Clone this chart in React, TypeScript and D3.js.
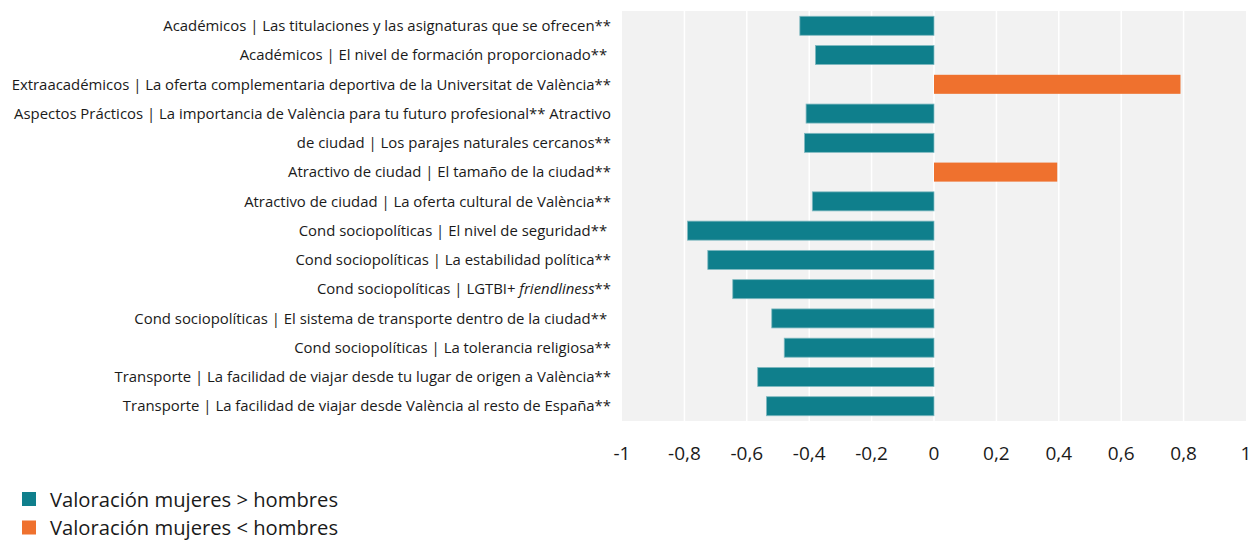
import React, { useRef, useEffect } from 'react';
import * as d3 from 'd3';

// categories, top to bottom
const categories = [
  'Académicos | Las titulaciones y las asignaturas que se ofrecen**',
  'Académicos | El nivel de formación proporcionado**\u00a0',
  'Extraacadémicos | La oferta complementaria deportiva de la Universitat de València**',
  'Aspectos Prácticos | La importancia de València para tu futuro profesional** Atractivo',
  'de ciudad | Los parajes naturales cercanos**',
  'Atractivo de ciudad | El tamaño de la ciudad**',
  'Atractivo de ciudad | La oferta cultural de València**',
  'Cond sociopolíticas | El nivel de seguridad**\u00a0',
  'Cond sociopolíticas | La estabilidad política**',
  'Cond sociopolíticas | LGTBI+ |friendliness|**',
  'Cond sociopolíticas | El sistema de transporte dentro de la ciudad**\u00a0',
  'Cond sociopolíticas | La tolerancia religiosa**',
  'Transporte | La facilidad de viajar desde tu lugar de origen a València**',
  'Transporte | La facilidad de viajar desde València al resto de España**',
];

const differences = [-0.43, -0.38, 0.79, -0.41, -0.415, 0.395, -0.39, -0.79, -0.725, -0.645, -0.52, -0.48, -0.565, -0.537];

const xTicks = [-1, -0.8, -0.6, -0.4, -0.2, 0, 0.2, 0.4, 0.6, 0.8, 1];

const legendLabels = ['Valoración mujeres > hombres', 'Valoración mujeres < hombres'];

const TEAL = '#0f7f8c';
const ORANGE = '#ef712e';

const WIDTH = 1253;
const HEIGHT = 540;

export default function App() {
  const svgRef = useRef<SVGSVGElement>(null);

  useEffect(() => {
    if (!svgRef.current) return;
    const svg = d3.select(svgRef.current);
    svg.selectAll('*').remove();

    const font = '"Open Sans", "Noto Sans", sans-serif';
    const left = 622;
    const right = 1246;
    const top = 11;
    const bottom = 421;

    const x = d3.scaleLinear().domain([-1, 1]).range([left, right]);
    const y = d3.scaleBand<number>()
      .domain(d3.range(categories.length))
      .range([top, bottom])
      .paddingInner(0.35)
      .paddingOuter(0.18);

    // plot background
    svg.append('rect')
      .attr('x', left)
      .attr('y', top)
      .attr('width', right - left)
      .attr('height', bottom - top)
      .attr('fill', '#f2f2f2');

    // vertical gridlines
    svg.append('g')
      .selectAll('line')
      .data(xTicks.slice(1, -1))
      .enter()
      .append('line')
      .attr('x1', d => x(d))
      .attr('x2', d => x(d))
      .attr('y1', top)
      .attr('y2', bottom)
      .attr('stroke', '#ffffff')
      .attr('stroke-width', 1.5);

    // bars
    svg.append('g')
      .selectAll('rect')
      .data(differences)
      .enter()
      .append('rect')
      .attr('x', d => x(Math.min(0, d)))
      .attr('y', (_, i) => y(i) || 0)
      .attr('width', d => Math.abs(x(d) - x(0)))
      .attr('height', y.bandwidth())
      .attr('fill', d => (d < 0 ? TEAL : ORANGE))
      .attr('stroke', d => (d < 0 ? '#7fb9c0' : 'none'))
      .attr('stroke-width', 0.8);

    // category labels
    const labels = svg.append('g')
      .selectAll('text')
      .data(categories)
      .enter()
      .append('text')
      .attr('x', 611)
      .attr('y', (_, i) => (y(i) || 0) + y.bandwidth() / 2)
      .attr('dy', '0.35em')
      .attr('text-anchor', 'end')
      .attr('font-family', font)
      .attr('font-size', 14.9)
      .attr('fill', '#1a1a1a')
      .style('white-space', 'pre');

    labels.each(function (d) {
      const parts = d.split('|');
      const t = d3.select(this);
      if (parts.length === 4) {
        // "prefix | LGTBI+ " + italic word + "**"
        t.append('tspan').text(parts[0] + '|' + parts[1]);
        t.append('tspan').attr('font-style', 'italic').text(parts[2]);
        t.append('tspan').text(parts[3]);
      } else {
        t.text(d);
      }
    });

    // x-axis tick labels
    svg.append('g')
      .selectAll('text')
      .data(xTicks)
      .enter()
      .append('text')
      .attr('x', d => x(d))
      .attr('y', 453)
      .attr('dy', '0.35em')
      .attr('text-anchor', 'middle')
      .attr('font-family', font)
      .attr('font-size', 19)
      .attr('fill', '#1a1a1a')
      .text(d => String(d).replace('.', ','));

    // legend
    const legend = svg.append('g');
    legendLabels.forEach((label, i) => {
      const cy = 499 + i * 28.5;
      legend.append('rect')
        .attr('x', 22)
        .attr('y', cy - 7)
        .attr('width', 14)
        .attr('height', 14)
        .attr('fill', i === 0 ? TEAL : ORANGE);
      legend.append('text')
        .attr('x', 50)
        .attr('y', cy + 0.5)
        .attr('dy', '0.35em')
        .attr('font-family', font)
        .attr('font-size', 20.2)
        .attr('fill', '#1a1a1a')
        .text(label);
    });
  }, []);

  return (
    <svg
      ref={svgRef}
      width={WIDTH}
      height={HEIGHT}
      style={{ position: 'absolute', left: 0, top: 0, display: 'block', background: '#ffffff' }}
    />
  );
}
